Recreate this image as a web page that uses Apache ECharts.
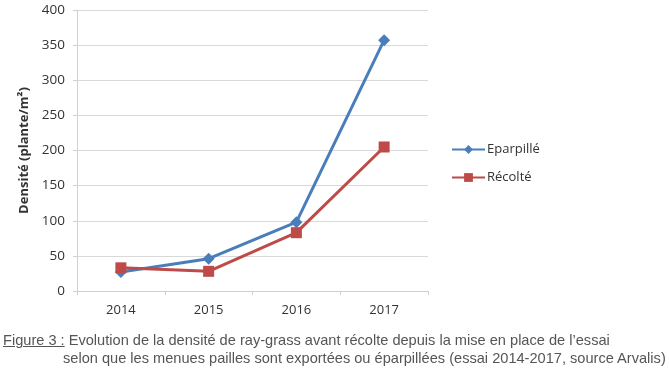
<!DOCTYPE html>
<html><head><meta charset="utf-8">
<script src="https://cdn.jsdelivr.net/npm/echarts@6/dist/echarts.min.js"></script>
<style>
html,body{margin:0;padding:0;background:#fff;}
#c{width:669px;height:371px;position:relative;}
#cap{position:absolute;left:3px;top:331px;font-family:"Liberation Sans",Arial,sans-serif;font-size:14.6px;color:#555;line-height:18px;white-space:nowrap;}
#cap u{text-decoration:underline;}
</style></head><body>
<div id="c"></div>
<div id="cap"><u>Figure 3 :</u> Evolution de la densité de ray-grass avant récolte depuis la mise en place de l’essai<br><span style="padding-left:60px">selon que les menues pailles sont exportées ou éparpillées (essai 2014-2017, source Arvalis)</span></div>
<script>
const categories = ['2014','2015','2016','2017'];
const eparpille = [27, 46, 98, 357];
const recolte = [33, 28, 83, 205];
const yTicks = {min:0, max:400, interval:50};

const chart = echarts.init(document.getElementById('c'));
chart.setOption({
  animation:false,
  textStyle:{fontFamily:'Open Sans'},
  grid:{left:77, right:241, top:10, bottom:80},
  legend:{
    orient:'vertical', left:446, top:138, itemGap:15,
    itemWidth:33, itemHeight:11,
    textStyle:{fontSize:13, color:'#333', fontFamily:'Open Sans', padding:[0,0,0,-3]},
    data:[{name:'Eparpillé'},{name:'Récolté'}]
  },
  xAxis:{
    type:'category', data:categories, boundaryGap:true,
    axisLine:{lineStyle:{color:'#d0d0d0', width:1}},
    axisTick:{show:true, length:4, lineStyle:{color:'#d0d0d0'}},
    axisLabel:{fontSize:13, color:'#333', margin:13}
  },
  yAxis:{
    type:'value', min:yTicks.min, max:yTicks.max, interval:yTicks.interval,
    name:'Densité (plante/m²)', nameLocation:'middle', nameGap:43,
    nameTextStyle:{fontSize:13, fontWeight:'bold', color:'#333'},
    axisLine:{show:true, lineStyle:{color:'#d0d0d0'}},
    axisTick:{show:true, length:4, lineStyle:{color:'#d0d0d0'}},
    axisLabel:{fontSize:13.5, color:'#333', margin:12},
    splitLine:{lineStyle:{color:'#d9d9d9', width:1}}
  },
  series:[
    {name:'Eparpillé', type:'line', data:eparpille, symbol:'diamond', symbolSize:12,
     lineStyle:{color:'#4a7ebb', width:3}, itemStyle:{color:'#4a7ebb'}},
    {name:'Récolté', type:'line', data:recolte, symbol:'rect', symbolSize:11,
     lineStyle:{color:'#be4b48', width:3}, itemStyle:{color:'#be4b48'}}
  ]
});
</script>
</body></html>
